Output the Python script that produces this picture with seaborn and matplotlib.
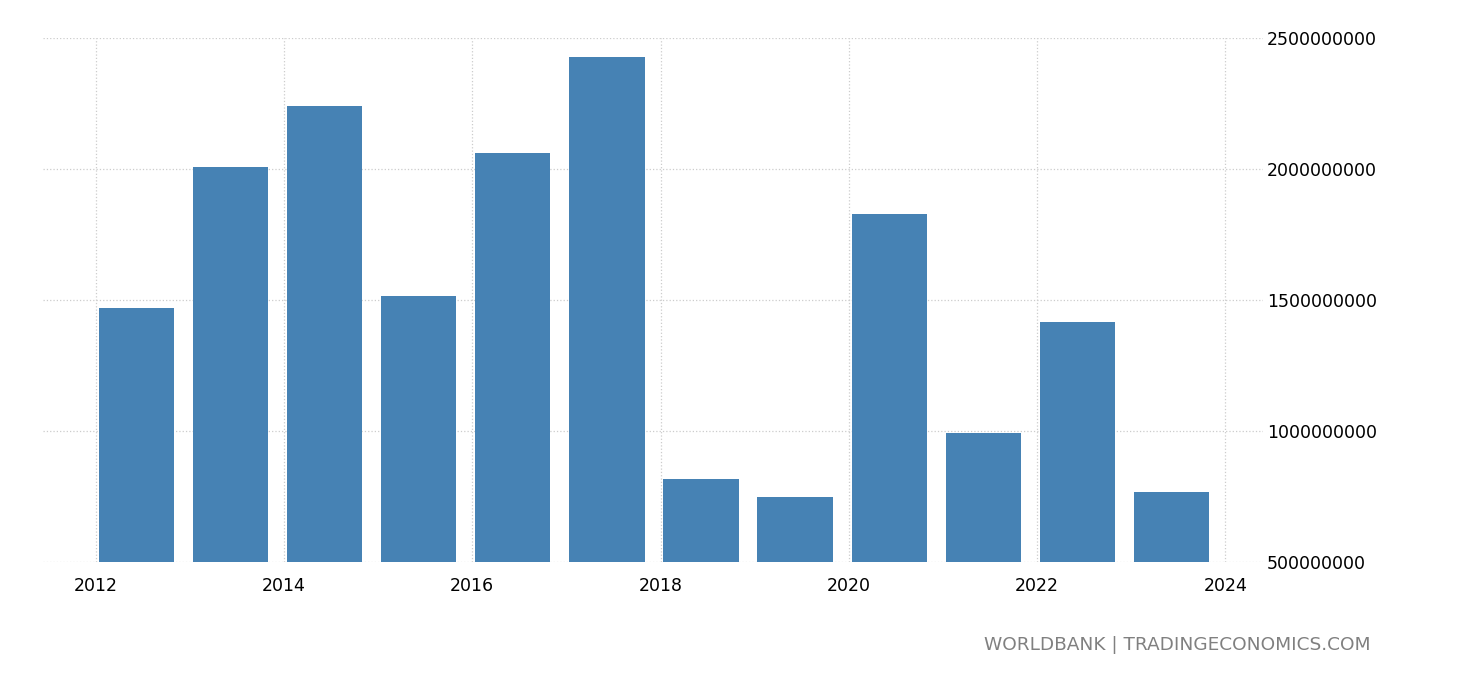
import numpy as np
import pandas as pd
import seaborn as sns
import matplotlib.pyplot as plt
import matplotlib.ticker as ticker

years = [2012, 2013, 2014, 2015, 2016, 2017, 2018, 2019, 2020, 2021, 2022, 2023]
values = [1469e6, 2008e6, 2240e6, 1515e6, 2061e6, 2427e6,
          817e6, 748e6, 1828e6, 992e6, 1416e6, 767e6]
xticks = [2012, 2014, 2016, 2018, 2020, 2022, 2024]
yticks = [500e6, 1000e6, 1500e6, 2000e6, 2500e6]

sns.set_style('white')
plt.rcParams['font.family'] = ['DejaVu Sans']

df = pd.DataFrame({'year': years, 'value': values})
# bars sit inside each year slot, just right of the tick
df['pos'] = df['year'] + 0.43

fig = plt.figure(figsize=(14.6, 6.8), dpi=100)
ax = fig.add_axes([0.0295, 0.1735, 0.8355, 0.7705])
sns.barplot(data=df, x='pos', y='value', native_scale=True, color='#4682b4',
            saturation=1, width=0.8, linewidth=0, ax=ax, zorder=2)

ax.set_xlim(2011.44, 2024.4)
ax.set_ylim(500e6, 2500e6)
ax.set_xticks(xticks)
ax.set_yticks(yticks)
ax.yaxis.set_major_formatter(ticker.FuncFormatter(lambda v, p: f'{int(v)}'))
ax.yaxis.tick_right()
ax.grid(True, color='#cccccc', linestyle=':', linewidth=0.9, zorder=0)
ax.set_axisbelow(True)
for s in ax.spines.values():
    s.set_visible(False)
ax.tick_params(axis='x', length=7, color='#cccccc', labelsize=12.5, pad=4,
               labelcolor='black')
ax.tick_params(axis='y', length=0, labelsize=12.5, pad=3, labelcolor='black')
ax.set_xlabel('')
ax.set_ylabel('')

fig.text(0.939, 0.052, 'WORLDBANK | TRADINGECONOMICS.COM', ha='right', va='center',
         fontsize=13.3, color='#808080')

fig.savefig('out.png', dpi=100)
